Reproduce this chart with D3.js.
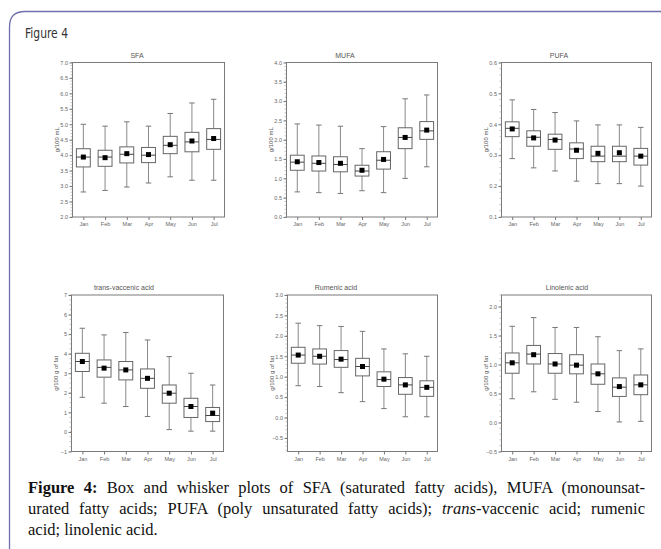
<!DOCTYPE html>
<html><head><meta charset="utf-8">
<script src="https://cdn.jsdelivr.net/npm/d3@7"></script>
<style>body{margin:0;background:#fff}svg{display:block}</style>
</head><body>
<svg id="c" width="661" height="549"></svg>
<script>
const months = ["Jan","Feb","Mar","Apr","May","Jun","Jul"];

// SFA (g/100 mL)
const sfaLow  = [2.81,2.86,2.97,3.10,3.30,3.19,3.19];
const sfaQ1   = [3.62,3.64,3.75,3.76,4.05,4.11,4.19];
const sfaMed  = [3.94,3.94,4.03,4.00,4.32,4.43,4.51];
const sfaQ3   = [4.21,4.16,4.27,4.25,4.61,4.74,4.86];
const sfaHigh = [5.00,4.94,5.08,4.94,5.35,5.69,5.81];
const sfaMean = [3.94,3.92,4.05,4.02,4.34,4.46,4.54];
const sfaTicks = [2.0,2.5,3.0,3.5,4.0,4.5,5.0,5.5,6.0,6.5,7.0];

// MUFA (g/100 mL)
const mufaLow  = [0.65,0.63,0.61,0.68,0.63,1.00,1.30];
const mufaQ1   = [1.21,1.19,1.17,1.06,1.24,1.77,2.01];
const mufaMed  = [1.42,1.39,1.36,1.19,1.47,2.06,2.23];
const mufaQ3   = [1.60,1.58,1.56,1.34,1.69,2.31,2.47];
const mufaHigh = [2.41,2.38,2.35,1.77,2.34,3.06,3.16];
const mufaMean = [1.43,1.41,1.39,1.21,1.49,2.06,2.25];
const mufaTicks = [0.0,0.5,1.0,1.5,2.0,2.5,3.0,3.5,4.0];

// PUFA (g/100 mL)
const pufaLow  = [0.289,0.259,0.249,0.216,0.208,0.208,0.200];
const pufaQ1   = [0.360,0.329,0.319,0.289,0.279,0.279,0.268];
const pufaMed  = [0.387,0.358,0.351,0.320,0.297,0.297,0.297];
const pufaQ3   = [0.408,0.379,0.368,0.340,0.329,0.329,0.322];
const pufaHigh = [0.479,0.448,0.438,0.411,0.398,0.398,0.390];
const pufaMean = [0.385,0.356,0.349,0.316,0.306,0.308,0.297];
const pufaTicks = [0.1,0.2,0.3,0.4,0.5,0.6];

// trans-vaccenic acid (g/100 g of fat)
const tvaLow  = [1.77,1.47,1.30,0.79,0.12,0.04,0.04];
const tvaQ1   = [3.09,2.80,2.66,2.23,1.47,0.74,0.53];
const tvaMed  = [3.60,3.30,3.17,2.74,1.98,1.30,0.84];
const tvaQ3   = [4.02,3.68,3.60,3.22,2.40,1.72,1.25];
const tvaHigh = [5.30,4.96,5.08,4.70,3.85,3.00,2.40];
const tvaMean = [3.60,3.26,3.17,2.74,1.98,1.30,0.96];
const tvaTicks = [-1,0,1,2,3,4,5,6,7];

// Rumenic acid (g/100 g of fat)
const rumLow  = [0.78,0.76,0.61,0.39,0.22,0.02,0.02];
const rumQ1   = [1.33,1.31,1.23,1.02,0.76,0.57,0.52];
const rumMed  = [1.53,1.50,1.42,1.25,0.93,0.80,0.74];
const rumQ3   = [1.72,1.68,1.64,1.45,1.12,0.98,0.90];
const rumHigh = [2.31,2.25,2.23,2.11,1.68,1.56,1.50];
const rumMean = [1.53,1.50,1.43,1.25,0.94,0.80,0.74];
const rumTicks = [-0.5,0.0,0.5,1.0,1.5,2.0,2.5,3.0];

// Linolenic acid (g/100 g of fat)
const linLow  = [0.41,0.53,0.40,0.35,0.19,0.01,0.02];
const linQ1   = [0.85,1.01,0.85,0.84,0.66,0.45,0.48];
const linMed  = [1.03,1.18,1.01,0.99,0.84,0.61,0.65];
const linQ3   = [1.20,1.33,1.19,1.17,1.01,0.77,0.82];
const linHigh = [1.66,1.81,1.64,1.64,1.48,1.24,1.27];
const linMean = [1.03,1.17,1.01,0.99,0.84,0.62,0.65];
const linTicks = [-0.5,0.0,0.5,1.0,1.5,2.0];

const panels = [
  {title:"SFA", ylab:"g/100 mL", x0:72.5,x1:224.5,y0:62.5,y1:217, dom:[2,7], ticks:sfaTicks, fmt:d3.format(".1f"), minor:5, tx:137,
   low:sfaLow,q1:sfaQ1,med:sfaMed,q3:sfaQ3,high:sfaHigh,mean:sfaMean},
  {title:"MUFA", ylab:"g/100 mL", x0:286.5,x1:437.5,y0:62.5,y1:217, dom:[0,4], ticks:mufaTicks, fmt:d3.format(".1f"), minor:5, tx:345,
   low:mufaLow,q1:mufaQ1,med:mufaMed,q3:mufaQ3,high:mufaHigh,mean:mufaMean},
  {title:"PUFA", ylab:"g/100 mL", x0:501.5,x1:651.5,y0:62.5,y1:217, dom:[0.1,0.6], ticks:pufaTicks, fmt:d3.format(".1f"), minor:5, tx:559,
   low:pufaLow,q1:pufaQ1,med:pufaMed,q3:pufaQ3,high:pufaHigh,mean:pufaMean},
  {title:"trans-vaccenic acid", ylab:"g/100 g of fat", x0:71.5,x1:223.5,y0:295,y1:451.5, dom:[-1,7], ticks:tvaTicks, fmt:d3.format("d"), minor:4, tx:124,
   low:tvaLow,q1:tvaQ1,med:tvaMed,q3:tvaQ3,high:tvaHigh,mean:tvaMean},
  {title:"Rumenic acid", ylab:"g/100 g of fat", x0:287.5,x1:437.5,y0:295,y1:451.5, dom:[-0.83,3.0], ticks:rumTicks, fmt:d3.format(".1f"), minor:5, tx:336,
   low:rumLow,q1:rumQ1,med:rumMed,q3:rumQ3,high:rumHigh,mean:rumMean},
  {title:"Linolenic acid", ylab:"g/100 g of fat", x0:501.5,x1:651.5,y0:295,y1:451.5, dom:[-0.5,2.2], ticks:linTicks, fmt:d3.format(".1f"), minor:5, tx:567,
   low:linLow,q1:linQ1,med:linMed,q3:linQ3,high:linHigh,mean:linMean}
];

const svg = d3.select("#c");
svg.append("rect").attr("width",661).attr("height",549).attr("fill","#fff");

// outer frame
svg.append("path")
  .attr("d","M9.5,549 L9.5,27 Q9.5,11.5 25,11.5 L661,11.5")
  .attr("fill","none").attr("stroke","#6f6fae").attr("stroke-width",1.3);

svg.append("text").attr("x",25).attr("y",38)
  .attr("font-family","'Liberation Sans Narrow','DejaVu Sans Condensed','Liberation Sans',sans-serif")
  .attr("font-size",14).attr("fill","#333")
  .attr("textLength",43).attr("lengthAdjust","spacingAndGlyphs")
  .text("Figure 4");

const fontSans = "'Liberation Sans',Arial,sans-serif";

panels.forEach(p => {
  const g = svg.append("g");
  const x = d3.scalePoint().domain(months).range([p.x0,p.x1]).padding(0.5);
  const y = d3.scaleLinear().domain(p.dom).range([p.y1,p.y0]);
  const step = x.step();
  const bw = step*0.64, cw = 5.5, ms = 5;

  // frame
  g.append("rect").attr("x",p.x0).attr("y",p.y0).attr("width",p.x1-p.x0).attr("height",p.y1-p.y0)
    .attr("fill","#fff").attr("stroke","#7a7a7a").attr("stroke-width",1);

  // minor ticks
  const tstep = p.ticks[1]-p.ticks[0];
  const minorVals = [];
  const lo = Math.ceil((p.dom[0]-1e-9)/(tstep/p.minor));
  const hi = Math.floor((p.dom[1]+1e-9)/(tstep/p.minor));
  for (let k=lo;k<=hi;k++) minorVals.push(k*tstep/p.minor);
  g.append("g").selectAll("line").data(minorVals).join("line")
    .attr("x1",p.x0-2).attr("x2",p.x0).attr("y1",d=>y(d)).attr("y2",d=>y(d))
    .attr("stroke","#999").attr("stroke-width",0.6);

  // y axis
  const ya = g.append("g").attr("transform",`translate(${p.x0},0)`)
    .call(d3.axisLeft(y).tickValues(p.ticks).tickFormat(p.fmt).tickSize(3).tickPadding(1.5));
  ya.select(".domain").remove();
  ya.selectAll(".tick line").attr("stroke","#777");
  ya.selectAll(".tick text").attr("font-family",fontSans).attr("font-size",5.5).attr("fill","#666");

  // x axis
  const xa = g.append("g").attr("transform",`translate(0,${p.y1})`)
    .call(d3.axisBottom(x).tickSize(3).tickPadding(2.5));
  xa.select(".domain").remove();
  xa.selectAll(".tick line").attr("stroke","#777");
  xa.selectAll(".tick text").attr("font-family",fontSans).attr("font-size",5.5).attr("fill","#666");

  // title
  g.append("text").attr("x",p.tx).attr("y",p.y0-5).attr("text-anchor","middle")
    .attr("font-family",fontSans).attr("font-size",7).attr("fill","#555").text(p.title);
  // y label
  g.append("text").attr("transform",`translate(${p.x0-14},${(p.y0+p.y1)/2}) rotate(-90)`)
    .attr("text-anchor","middle").attr("font-family",fontSans).attr("font-size",6).attr("fill","#555").text(p.ylab);

  const idx = d3.range(months.length);
  const bx = g.append("g");
  // whiskers
  bx.selectAll(".wh").data(idx).join("line").attr("class","wh")
    .attr("x1",i=>x(months[i])).attr("x2",i=>x(months[i]))
    .attr("y1",i=>y(p.low[i])).attr("y2",i=>y(p.high[i]))
    .attr("stroke","#8a8a8a").attr("stroke-width",1);
  bx.selectAll(".capT").data(idx).join("line").attr("class","capT")
    .attr("x1",i=>x(months[i])-cw/2).attr("x2",i=>x(months[i])+cw/2)
    .attr("y1",i=>y(p.high[i])).attr("y2",i=>y(p.high[i]))
    .attr("stroke","#777").attr("stroke-width",1);
  bx.selectAll(".capB").data(idx).join("line").attr("class","capB")
    .attr("x1",i=>x(months[i])-cw/2).attr("x2",i=>x(months[i])+cw/2)
    .attr("y1",i=>y(p.low[i])).attr("y2",i=>y(p.low[i]))
    .attr("stroke","#777").attr("stroke-width",1);
  // boxes
  bx.selectAll(".box").data(idx).join("rect").attr("class","box")
    .attr("x",i=>x(months[i])-bw/2).attr("width",bw)
    .attr("y",i=>y(p.q3[i])).attr("height",i=>y(p.q1[i])-y(p.q3[i]))
    .attr("fill","#fff").attr("stroke","#666").attr("stroke-width",1);
  // medians
  bx.selectAll(".med").data(idx).join("line").attr("class","med")
    .attr("x1",i=>x(months[i])-bw/2).attr("x2",i=>x(months[i])+bw/2)
    .attr("y1",i=>y(p.med[i])).attr("y2",i=>y(p.med[i]))
    .attr("stroke","#444").attr("stroke-width",1);
  // means
  bx.selectAll(".mean").data(idx).join("rect").attr("class","mean")
    .attr("x",i=>x(months[i])-ms/2).attr("y",i=>y(p.mean[i])-ms/2)
    .attr("width",ms).attr("height",ms).attr("fill","#000");
});

// caption
const capLines = [
  {parts:[{t:"Figure 4:",b:true},{t:" Box and whisker plots of SFA (saturated fatty acids), MUFA (monounsat-"}], just:true},
  {parts:[{t:"urated fatty acids; PUFA (poly unsaturated fatty acids); "},{t:"trans",i:true},{t:"-vaccenic acid; rumenic"}], just:true},
  {parts:[{t:"acid; linolenic acid."}], just:false}
];
const capX = 28, capW = 617, capY0 = 493, capLH = 21;
capLines.forEach((ln,k) => {
  const t = svg.append("text").attr("x",capX).attr("y",capY0+k*capLH)
    .attr("font-family","'Liberation Serif','Times New Roman',serif").attr("font-size",16.5).attr("fill","#111");
  ln.parts.forEach(pt => {
    t.append("tspan").attr("font-weight",pt.b?"bold":null).attr("font-style",pt.i?"italic":null).text(pt.t);
  });
  if (ln.just) {
    const len = t.node().getComputedTextLength();
    const full = ln.parts.map(d=>d.t).join("");
    const nsp = (full.match(/ /g)||[]).length;
    if (nsp>0) t.attr("word-spacing",(capW-len)/nsp);
  }
});
</script>
</body></html>
